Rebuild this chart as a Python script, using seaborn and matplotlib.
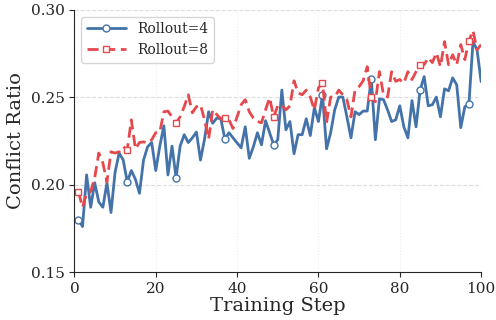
import numpy as np
import pandas as pd
import seaborn as sns
import matplotlib
matplotlib.use("Agg")
import matplotlib.pyplot as plt

steps = list(range(1, 101))

rollout4 = [
    0.180, 0.176, 0.2055, 0.187, 0.201, 0.190, 0.187, 0.201, 0.184, 0.207,
    0.218, 0.214, 0.2015, 0.208, 0.203, 0.195, 0.214, 0.2216, 0.224, 0.208,
    0.222, 0.2336, 0.2055, 0.222, 0.204, 0.222, 0.2285, 0.224, 0.2267, 0.230,
    0.214, 0.226, 0.2416, 0.235, 0.238, 0.2376, 0.226, 0.2296, 0.2267, 0.2238,
    0.221, 0.233, 0.215, 0.2216, 0.2296, 0.2227, 0.2365, 0.2296, 0.2227, 0.2256,
    0.254, 0.2313, 0.236, 0.2176, 0.2285, 0.2285, 0.2376, 0.228, 0.244, 0.236,
    0.2513, 0.2204, 0.2296, 0.2427, 0.250, 0.250, 0.2387, 0.2267, 0.2416, 0.240,
    0.242, 0.242, 0.2605, 0.2256, 0.249, 0.2485, 0.2427, 0.236, 0.237, 0.245,
    0.233, 0.2267, 0.248, 0.233, 0.254, 0.2617, 0.245, 0.2456, 0.250, 0.2387,
    0.2547, 0.2536, 0.261, 0.257, 0.2325, 0.2445, 0.246, 0.2817, 0.277, 0.2588,
]

rollout8 = [
    0.1958, 0.187, 0.195, 0.196, 0.204, 0.218, 0.2124, 0.2015, 0.2187, 0.218,
    0.2187, 0.2216, 0.220, 0.237, 0.2204, 0.224, 0.2244, 0.2238, 0.2256, 0.2296,
    0.230, 0.2416, 0.242, 0.2387, 0.2353, 0.2387, 0.2445, 0.2513, 0.241, 0.2445,
    0.2456, 0.237, 0.226, 0.2427, 0.240, 0.2376, 0.238, 0.237, 0.232, 0.2387,
    0.2456, 0.2485, 0.2416, 0.238, 0.236, 0.2353, 0.2427, 0.2496, 0.2387, 0.245,
    0.2456, 0.2427, 0.245, 0.2593, 0.2525, 0.2513, 0.254, 0.250, 0.2427, 0.2553,
    0.258, 0.2353, 0.250, 0.250, 0.254, 0.2513, 0.2485, 0.2387, 0.254, 0.256,
    0.2593, 0.2674, 0.250, 0.2473, 0.2645, 0.2513, 0.250, 0.2645, 0.259, 0.260,
    0.258, 0.2645, 0.260, 0.2645, 0.2685, 0.2685, 0.2725, 0.2697, 0.2753, 0.2674,
    0.2817, 0.2685, 0.2742, 0.2685, 0.280, 0.2714, 0.2823, 0.288, 0.277, 0.280,
]

df = pd.DataFrame({
    "step": steps * 2,
    "ratio": rollout4 + rollout8,
    "run": ["Rollout=4"] * 100 + ["Rollout=8"] * 100,
})

sns.set_style("ticks")
plt.rcParams["font.family"] = ["DejaVu Serif"]

blue = "#4373a9"
red = "#e5484d"

fig, ax = plt.subplots(figsize=(4.96, 3.2), dpi=100)
sns.lineplot(data=df[df.run == "Rollout=4"], x="step", y="ratio", ax=ax,
             color=blue, lw=2, marker="o", markevery=12, markersize=5,
             markerfacecolor="white", markeredgecolor=blue, markeredgewidth=1,
             label="Rollout=4")
sns.lineplot(data=df[df.run == "Rollout=8"], x="step", y="ratio", ax=ax,
             color=red, lw=2, ls=(0, (4, 2)), marker="s", markevery=12,
             markersize=5, markerfacecolor="white", markeredgecolor=red,
             markeredgewidth=1, label="Rollout=8")

ax.set_xlim(0, 100)
ax.set_ylim(0.15, 0.30)
ax.set_xticks([0, 20, 40, 60, 80, 100])
ax.set_yticks([0.15, 0.20, 0.25, 0.30])
ax.tick_params(labelsize=11)
ax.set_xlabel("Training Step", fontsize=14, labelpad=1)
ax.set_ylabel("Conflict Ratio", fontsize=14)
ax.grid(True, axis="y", ls="--", color="#dddddd", lw=0.8)
ax.grid(True, axis="x", ls=":", color="#eeeeee", lw=0.8)
sns.despine(ax=ax)
ax.legend(loc="upper left", fontsize=10, handlelength=2.8, frameon=True)

plt.subplots_adjust(left=0.15, right=0.97, bottom=0.15, top=0.97)
plt.savefig("out.png", dpi=100)
